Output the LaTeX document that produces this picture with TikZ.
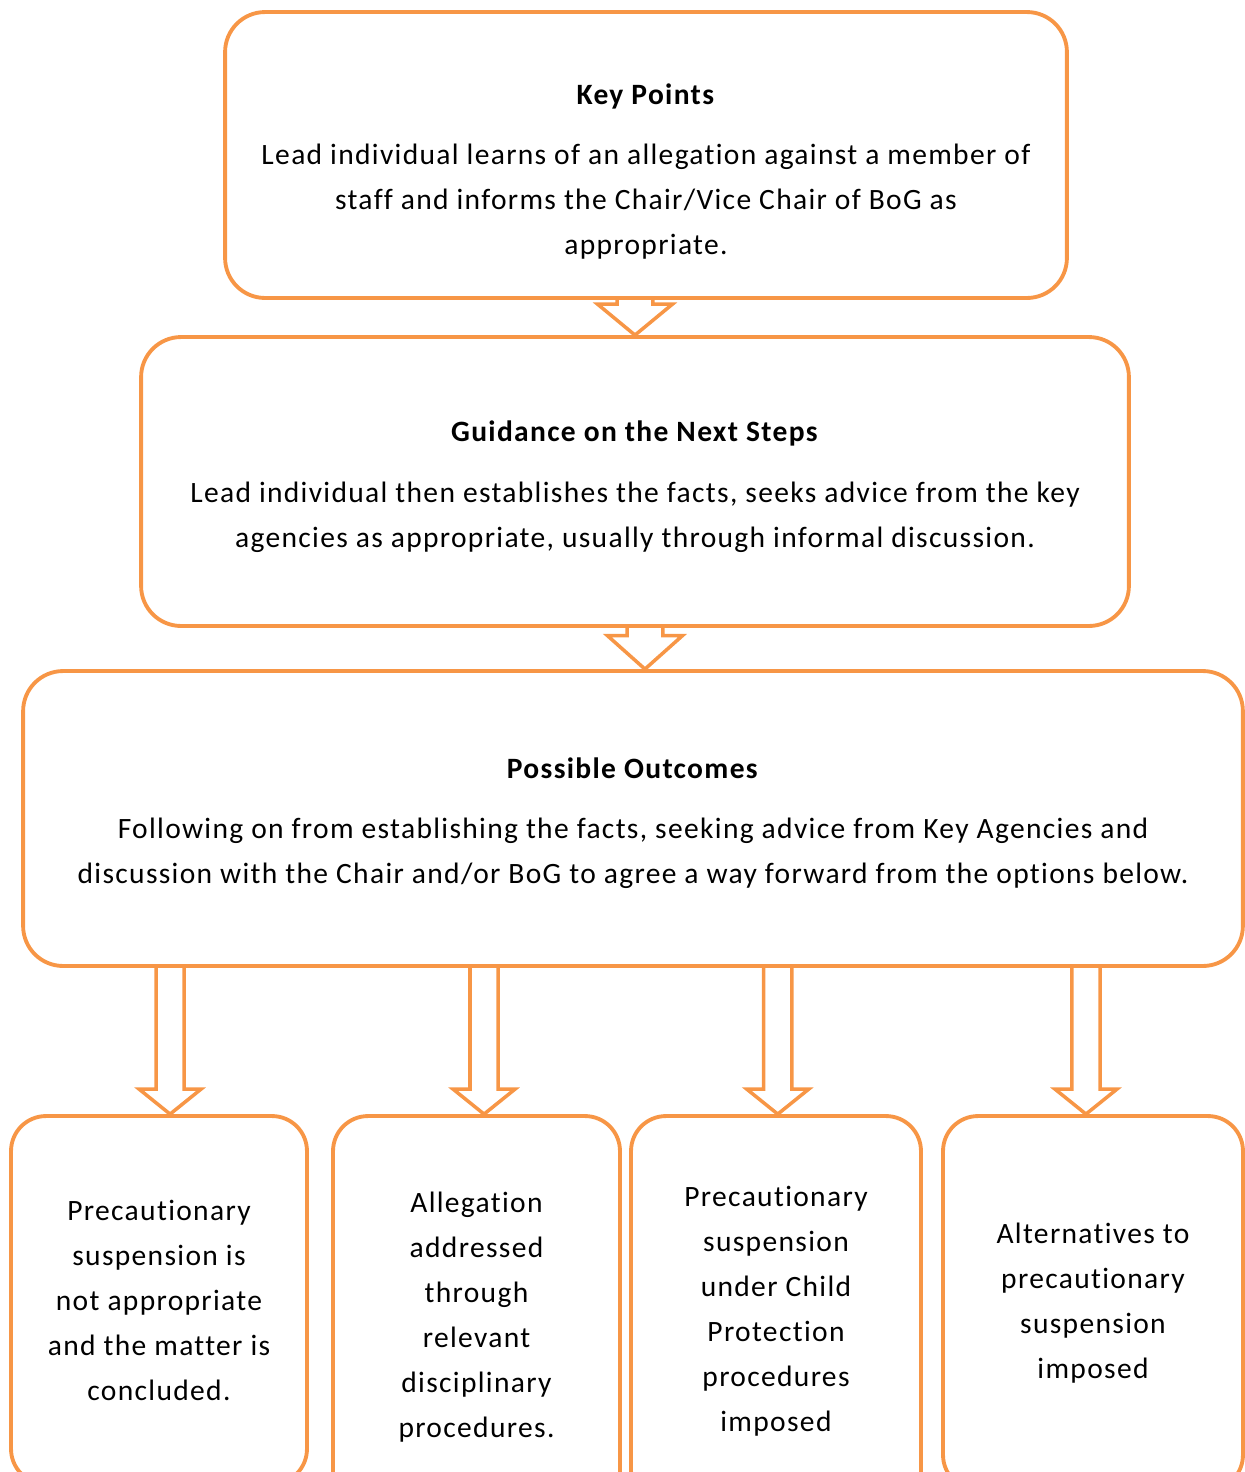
\documentclass[tikz,border=0pt]{standalone}
\usepackage{fontspec}
\setmainfont{Carlito}[LetterSpace=4.5, Ligatures={NoCommon}]
\usetikzlibrary{calc}
\definecolor{flowOrange}{HTML}{F79646}

\tikzset{
  stage/.style={draw=flowOrange, line width=2.2pt, rounded corners=0.8cm, align=center, inner sep=0pt},
  outcome/.style={stage, rounded corners=0.7cm},
  blockarrow/.style args={#1/#2/#3}{draw=flowOrange, line width=2pt, line join=miter, to path={
    let \p1=(\tikztostart), \p2=(\tikztotarget) in
    (\x2-#1,\y1) -- (\x2-#1,\y2+#3) -- (\x2-#2,\y2+#3) -- (\x2,\y2)
      -- (\x2+#2,\y2+#3) -- (\x2+#1,\y2+#3) -- (\x2+#1,\y1)}}
}

\begin{document}
\begin{tikzpicture}[x=0.02cm, y=-0.02cm, font=\fontsize{16.8pt}{25.6pt}\selectfont]
  \clip (0,0) rectangle (1245,1472);

  % the three stages
  \node[stage, minimum width=16.84cm, minimum height=5.72cm] (kp) at (646,155)
    {\rule{0pt}{30.5pt}\textbf{Key Points}\\[9pt]
     Lead individual learns of an allegation against a member of\\
     staff and informs the Chair/Vice Chair of BoG as\\
     appropriate.};
  \node[stage, minimum width=19.76cm, minimum height=5.78cm] (gd) at (635,481.5)
    {\rule{0pt}{18pt}\textbf{Guidance on the Next Steps}\\[9pt]
     Lead individual then establishes the facts, seeks advice from the key\\
     agencies as appropriate, usually through informal discussion.};
  \node[stage, minimum width=24.4cm, minimum height=5.9cm] (po) at (633,818.5)
    {\rule{0pt}{17pt}\textbf{Possible Outcomes}\\[9pt]
     Following on from establishing the facts, seeking advice from Key Agencies and\\
     discussion with the Chair and/or BoG to agree a way forward from the options below.};

  % the four outcomes
  \node[outcome, minimum width=5.92cm, minimum height=7.36cm] (pa) at (159,1300)
    {Precautionary\\ suspension is\\ not appropriate\\ and the matter is\\ concluded.};
  \node[outcome, minimum width=5.74cm, minimum height=8.04cm] (pb) at (476.5,1317)
    {Allegation\\ addressed\\ through\\ relevant\\ disciplinary\\ procedures.};
  \node[outcome, minimum width=5.8cm, minimum height=7.8cm] (pc) at (776,1311)
    {Precautionary\\ suspension\\ under Child\\ Protection\\ procedures\\ imposed};
  \node[outcome, minimum width=6cm, minimum height=7.48cm] (pd) at (1093,1303)
    {Alternatives to\\ precautionary\\ suspension\\ imposed};

  % block arrows
  \draw[blockarrow=10.2pt/21.3pt/17.6pt] (kp.south) to (gd.north);
  \draw[blockarrow=10.2pt/21.3pt/19pt] (gd.south) to ([xshift=6.8pt]po.north);
  \draw[blockarrow=8pt/17.6pt/14.2pt] (po.south) to ([xshift=6.3pt]pa.north);
  \draw[blockarrow=8pt/17.6pt/14.2pt] (po.south) to ([xshift=4.3pt]pb.north);
  \draw[blockarrow=8pt/17.6pt/14.2pt] (po.south) to ([xshift=1pt]pc.north);
  \draw[blockarrow=8pt/17.6pt/14.2pt] (po.south) to ([xshift=-4pt]pd.north);
\end{tikzpicture}
\end{document}
